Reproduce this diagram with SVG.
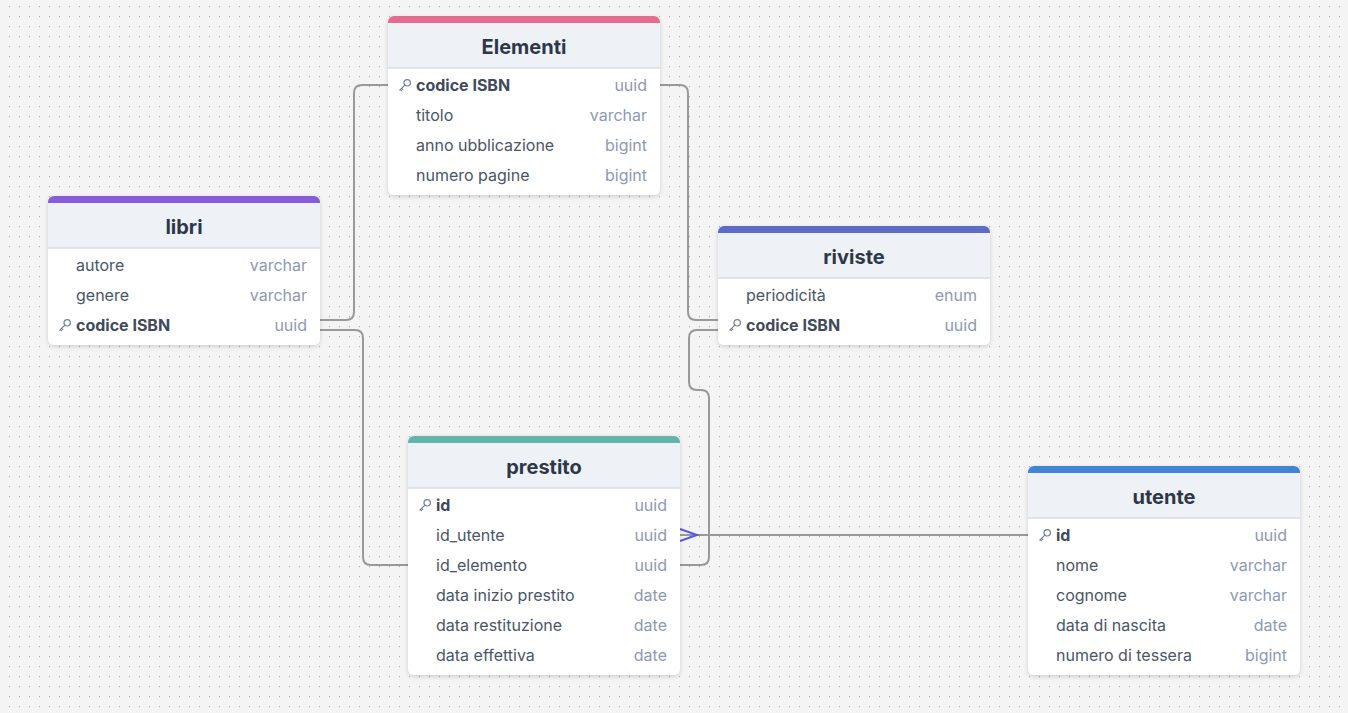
<svg xmlns="http://www.w3.org/2000/svg" xmlns:xlink="http://www.w3.org/1999/xlink" width="1348" height="713" viewBox="0 0 1348 713">
<defs>
<pattern id="dots" width="10" height="10" patternUnits="userSpaceOnUse">
<rect x="9" y="6" width="1.2" height="1.2" fill="#adadad"/>
</pattern>
<filter id="sh" x="-10%" y="-10%" width="120%" height="125%">
<feDropShadow dx="0" dy="1.5" stdDeviation="2" flood-color="#000" flood-opacity="0.16"/>
</filter>
<g id="key" fill="none" stroke="#718096" stroke-width="1.2" stroke-linecap="round">
<circle cx="2.2" cy="-2.2" r="3.2"/>
<path d="M-0.1,0.1 L-5.2,5.2 M-3.4,3.4 L-2.2,4.6 M-4.6,4.6 L-3.6,5.6"/>
</g>
</defs>
<style>
.card{fill:#ffffff;filter:url(#sh)}
.hdr{fill:#eef2f7}
.hline{stroke:#d6dde7;stroke-width:1.5}
.title{font-family:Inter,"Liberation Sans",sans-serif;font-size:20px;font-weight:700;fill:#2d3748;text-anchor:middle}
.nm{font-family:Inter,"Liberation Sans",sans-serif;font-size:16px;fill:#4a5568}
.pk{font-weight:700;fill:#3f4a5c}
.ty{font-family:Inter,"Liberation Sans",sans-serif;font-size:16px;fill:#8c9ab3;text-anchor:end}
.conn{fill:none;stroke:#999999;stroke-width:2}
.crow{fill:none;stroke:#5659ec;stroke-width:2}
</style>
<rect width="1348" height="713" fill="#f4f4f4"/>
<rect width="1348" height="713" fill="url(#dots)"/>

<g id="connectors">
<path class="conn" d="M320,320 H346 Q354,320 354,312 V93 Q354,85 362,85 H388"/>
<path class="conn" d="M320,330 H355 Q363,330 363,338 V557 Q363,565 371,565 H408"/>
<path class="conn" d="M660,85 H680 Q688,85 688,93 V312 Q688,320 696,320 H718"/>
<path class="conn" d="M718,330 H697 Q689,330 689,338 V382 Q689,390 697,390 H701 Q709,390 709,398 V557 Q709,565 701,565 H680"/>
<path class="conn" d="M680,535 H1028"/>
<path class="crow" d="M680,529 L697,535 L680,541"/>
</g>

<g id="Elementi" transform="translate(388,16)">
<rect class="card" width="272" height="179" rx="6"/>
<path class="hdr" d="M0,52 V6 A6,6 0 0 1 6,0 H266 A6,6 0 0 1 272,6 V52 Z"/>
<path fill="#e46d8d" d="M0,7 V6 A6,6 0 0 1 6,0 H266 A6,6 0 0 1 272,6 V7 Z"/>
<line class="hline" x1="0" y1="52" x2="272" y2="52"/>
<text class="title" x="136" y="38">Elementi</text>
<use xlink:href="#key" x="17" y="69"/>
<text class="nm pk" x="28" y="75">codice ISBN</text><text class="ty" x="259" y="75">uuid</text>
<text class="nm" x="28" y="105">titolo</text><text class="ty" x="259" y="105">varchar</text>
<text class="nm" x="28" y="135">anno ubblicazione</text><text class="ty" x="259" y="135">bigint</text>
<text class="nm" x="28" y="165">numero pagine</text><text class="ty" x="259" y="165">bigint</text>
</g>

<g id="libri" transform="translate(48,196)">
<rect class="card" width="272" height="149" rx="6"/>
<path class="hdr" d="M0,52 V6 A6,6 0 0 1 6,0 H266 A6,6 0 0 1 272,6 V52 Z"/>
<path fill="#8a5bd9" d="M0,7 V6 A6,6 0 0 1 6,0 H266 A6,6 0 0 1 272,6 V7 Z"/>
<line class="hline" x1="0" y1="52" x2="272" y2="52"/>
<text class="title" x="136" y="38">libri</text>
<text class="nm" x="28" y="75">autore</text><text class="ty" x="259" y="75">varchar</text>
<text class="nm" x="28" y="105">genere</text><text class="ty" x="259" y="105">varchar</text>
<use xlink:href="#key" x="17" y="129"/>
<text class="nm pk" x="28" y="135">codice ISBN</text><text class="ty" x="259" y="135">uuid</text>
</g>

<g id="riviste" transform="translate(718,226)">
<rect class="card" width="272" height="119" rx="6"/>
<path class="hdr" d="M0,52 V6 A6,6 0 0 1 6,0 H266 A6,6 0 0 1 272,6 V52 Z"/>
<path fill="#5c6bc7" d="M0,7 V6 A6,6 0 0 1 6,0 H266 A6,6 0 0 1 272,6 V7 Z"/>
<line class="hline" x1="0" y1="52" x2="272" y2="52"/>
<text class="title" x="136" y="38">riviste</text>
<text class="nm" x="28" y="75">periodicità</text><text class="ty" x="259" y="75">enum</text>
<use xlink:href="#key" x="17" y="99"/>
<text class="nm pk" x="28" y="105">codice ISBN</text><text class="ty" x="259" y="105">uuid</text>
</g>

<g id="prestito" transform="translate(408,436)">
<rect class="card" width="272" height="239" rx="6"/>
<path class="hdr" d="M0,52 V6 A6,6 0 0 1 6,0 H266 A6,6 0 0 1 272,6 V52 Z"/>
<path fill="#63b5a9" d="M0,7 V6 A6,6 0 0 1 6,0 H266 A6,6 0 0 1 272,6 V7 Z"/>
<line class="hline" x1="0" y1="52" x2="272" y2="52"/>
<text class="title" x="136" y="38">prestito</text>
<use xlink:href="#key" x="17" y="69"/>
<text class="nm pk" x="28" y="75">id</text><text class="ty" x="259" y="75">uuid</text>
<text class="nm" x="28" y="105">id_utente</text><text class="ty" x="259" y="105">uuid</text>
<text class="nm" x="28" y="135">id_elemento</text><text class="ty" x="259" y="135">uuid</text>
<text class="nm" x="28" y="165">data inizio prestito</text><text class="ty" x="259" y="165">date</text>
<text class="nm" x="28" y="195">data restituzione</text><text class="ty" x="259" y="195">date</text>
<text class="nm" x="28" y="225">data effettiva</text><text class="ty" x="259" y="225">date</text>
</g>

<g id="utente" transform="translate(1028,466)">
<rect class="card" width="272" height="209" rx="6"/>
<path class="hdr" d="M0,52 V6 A6,6 0 0 1 6,0 H266 A6,6 0 0 1 272,6 V52 Z"/>
<path fill="#4184d6" d="M0,7 V6 A6,6 0 0 1 6,0 H266 A6,6 0 0 1 272,6 V7 Z"/>
<line class="hline" x1="0" y1="52" x2="272" y2="52"/>
<text class="title" x="136" y="38">utente</text>
<use xlink:href="#key" x="17" y="69"/>
<text class="nm pk" x="28" y="75">id</text><text class="ty" x="259" y="75">uuid</text>
<text class="nm" x="28" y="105">nome</text><text class="ty" x="259" y="105">varchar</text>
<text class="nm" x="28" y="135">cognome</text><text class="ty" x="259" y="135">varchar</text>
<text class="nm" x="28" y="165">data di nascita</text><text class="ty" x="259" y="165">date</text>
<text class="nm" x="28" y="195">numero di tessera</text><text class="ty" x="259" y="195">bigint</text>
</g>
</svg>
